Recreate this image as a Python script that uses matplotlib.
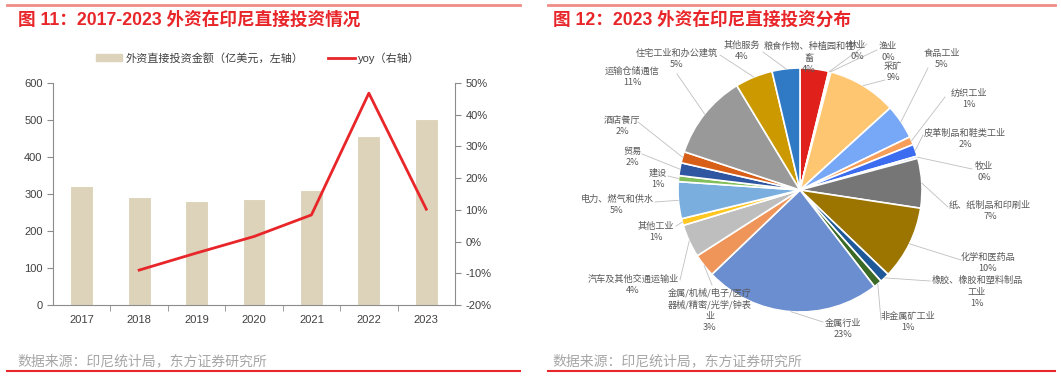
import matplotlib
matplotlib.use('Agg')
import matplotlib.pyplot as plt
from matplotlib.lines import Line2D
from matplotlib.patches import Patch
import numpy as np

plt.rcParams['font.family'] = ['Liberation Sans', 'Noto Sans CJK SC', 'DejaVu Sans']
plt.rcParams['axes.unicode_minus'] = False

# ---- data: left chart ----
years = ['2017', '2018', '2019', '2020', '2021', '2022', '2023']
fdi = [322, 293, 282, 287, 311, 456, 503]          # 亿美元
yoy = [np.nan, -9.0, -3.6, 1.6, 8.4, 46.8, 10.2]   # %

# ---- data: right chart (2023 share by sector, %) ----
sectors = ['粮食作物、种植园和牲畜', '林业', '渔业', '采矿', '食品工业', '纺织工业',
           '皮革制品和鞋类工业', '牧业', '纸、纸制品和印刷业', '化学和医药品',
           '橡胶、橡胶和塑料制品工业', '非金属矿工业', '金属行业',
           '金属/机械/电子/医疗器械/精密/光学/钟表业', '汽车及其他交通运输业', '其他工业',
           '电力、燃气和供水', '建设', '贸易', '酒店餐厅', '运输仓储通信',
           '住宅工业和办公建筑', '其他服务']
shares = [3.8, 0.15, 0.15, 9.2, 4.6, 1.1, 1.6, 0.3, 6.6, 9.8, 1.3, 1.1, 23.4,
          3.1, 4.4, 0.9, 4.9, 0.8, 1.7, 1.5, 11.3, 5.0, 3.7]
colors = ['#E0201B', '#A5A5A5', '#4472C4', '#FFC671', '#77A7F7', '#F79F5A',
          '#3C6CF0', '#A9C4EB', '#767676', '#9C7400', '#1F5899', '#3B6A27',
          '#6A8ECF', '#F0955A', '#BEBEBE', '#FFC720', '#79AEDF', '#82BE5A',
          '#2F56A0', '#D85F18', '#999999', '#CC9A00', '#2F79C5']

# label text as wrapped in the picture, and label centre / leader start in pixels
wrapped = {0: '粮食作物、种植园和牲\n畜', 10: '橡胶、橡胶和塑料制品\n工业',
           13: '金属/机械/电子/医疗\n器械/精密/光学/钟表\n业'}
lab_pos = [(809, 58), (857, 51), (888, 52), (893, 72), (942, 59), (969, 99),
           (965, 139), (984, 172), (990, 211), (988, 263), (977, 292), (908, 322),
           (843, 329), (710, 310), (633, 285), (656, 232), (617, 205), (658, 179),
           (632, 157), (622, 126), (632, 77), (677, 59), (742, 51)]
lead_start = [None, (867, 44), (877, 50), (885, 80), (928, 68), (945, 97),
              (923, 135), (972, 169), (948, 207), (961, 260), (930, 281), (881, 320),
              (823, 322), (712, 285), (680, 280), (676, 226), (655, 202), (668, 176),
              (642, 154), (638, 122), (677, 74), (720, 55), (763, 52)]

W, H = 1061, 379
fig = plt.figure(figsize=(W / 100, H / 100), dpi=100)

red = '#E8262A'
grey_txt = '#404040'

# frame lines, titles, sources
for x0, x1, tx, title in [(7, 520, 18, '图 11：2017-2023 外资在印尼直接投资情况'),
                          (548, 1055, 553, '图 12：2023 外资在印尼直接投资分布')]:
    fig.add_artist(Line2D([x0 / W, x1 / W], [1 - 5 / H] * 2, color='#F08C86', lw=2))
    fig.add_artist(Line2D([x0 / W, x1 / W], [1 - 371 / H] * 2, color=red, lw=1.5))
    fig.text(tx / W, 1 - 20 / H, title, color=red, fontsize=12.7, fontweight='bold',
             va='center', ha='left')
    fig.text((tx - 1) / W, 1 - 361 / H, '数据来源：印尼统计局，东方证券研究所',
             color='#A6A6A6', fontsize=10, va='center', ha='left')

# ---- left chart ----
ax = fig.add_axes([53 / W, 1 - 305 / H, (455 - 53) / W, (305 - 83) / H])
x = np.arange(len(years))
ax.bar(x, fdi, width=0.4, color='#DDD3BA', edgecolor='white', linewidth=0.8)
ax.set_xlim(-0.5, len(years) - 0.5)
ax.set_ylim(0, 600)
ax.set_yticks(range(0, 601, 100))
ax.set_xticks(x)
ax.set_xticklabels(years)
ax.set_xticks(x[:-1] + 0.5, minor=True)
ax.tick_params(axis='x', which='major', length=0, pad=7, labelsize=8, colors=grey_txt)
ax.tick_params(axis='x', which='minor', length=4, direction='out', color='#8C8C8C')
ax.tick_params(axis='y', length=4, labelsize=8, colors=grey_txt, color='#8C8C8C')
for s in ['top', 'right']:
    ax.spines[s].set_visible(False)
for s in ['left', 'bottom']:
    ax.spines[s].set_color('#8C8C8C')
    ax.spines[s].set_linewidth(0.8)

ax2 = ax.twinx()
ax2.plot(x, yoy, color=red, lw=2)
ax2.set_ylim(-20, 50)
ax2.set_yticks(range(-20, 51, 10))
ax2.set_yticklabels([f'{v}%' for v in range(-20, 51, 10)])
ax2.tick_params(axis='y', length=4, labelsize=8, colors=grey_txt, color='#8C8C8C')
for s in ['top', 'left', 'bottom']:
    ax2.spines[s].set_visible(False)
ax2.spines['right'].set_color('#8C8C8C')
ax2.spines['right'].set_linewidth(0.8)

handles = [Patch(color='#DDD3BA'), Line2D([], [], color=red, lw=2)]
fig.legend(handles, ['外资直接投资金额（亿美元，左轴）', 'yoy（右轴）'],
           loc='center', bbox_to_anchor=(258 / W, 1 - 58 / H), ncol=2, frameon=False,
           fontsize=8, handlelength=2.4, handleheight=0.6, columnspacing=2.2,
           handletextpad=0.3, labelcolor=grey_txt)

# ---- right chart ----
R = 122.0
cx, cy = 800, 190
pax = fig.add_axes([540 / W, 0, 520 / W, 1])
pax.axis('off')

wedges, _ = pax.pie(shares, colors=colors, startangle=90, counterclock=False,
                    radius=1.0, center=(0, 0),
                    wedgeprops=dict(edgecolor='white', linewidth=1.2))
pax.set_xlim(-260 / R, 260 / R)
pax.set_ylim(-(H - cy) / R, cy / R)


def to_data(p):
    return (p[0] - cx) / R, (cy - p[1]) / R


for i, w in enumerate(wedges):
    name = wrapped.get(i, sectors[i])
    txt = f'{name}\n{shares[i]:.0f}%'
    lx, ly = to_data(lab_pos[i])
    pax.text(lx, ly, txt, ha='center', va='center', fontsize=6.6, color='#595959',
             linespacing=1.35, family=['Noto Sans CJK SC', 'DejaVu Sans'])
    if lead_start[i] is not None:
        ang = np.deg2rad((w.theta1 + w.theta2) / 2)
        ex, ey = 1.0 * np.cos(ang), 1.0 * np.sin(ang)
        sx, sy = to_data(lead_start[i])
        pax.plot([sx, ex], [sy, ey], color='#BFBFBF', lw=0.6)

fig.savefig('out.png', dpi=100)
